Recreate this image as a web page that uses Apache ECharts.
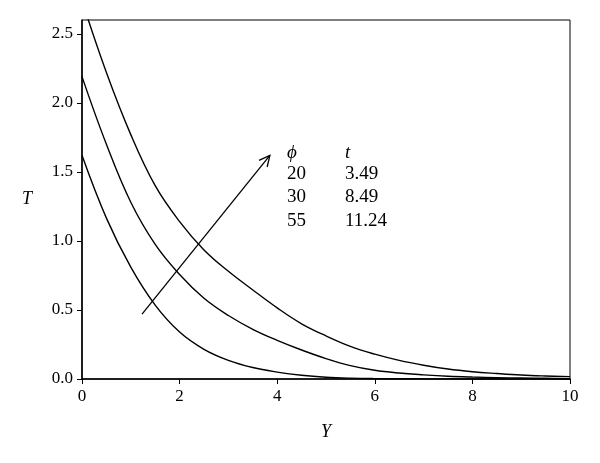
<!DOCTYPE html>
<html>
<head>
<meta charset="utf-8">
<script src="https://cdn.jsdelivr.net/npm/echarts@6/dist/echarts.min.js"></script>
<style>html,body{margin:0;padding:0;background:#fff;}#c{width:600px;height:463px;}</style>
</head>
<body>
<div id="c"></div>
<script>
// Data
var yPos = [0, 0.5, 1, 1.5, 2, 2.5, 3, 3.5, 4, 4.5, 5, 5.5, 6, 6.5, 7, 7.5, 8, 8.5, 9, 9.5, 10];
var T_phi20 = [1.62, 1.165, 0.81, 0.535, 0.34, 0.215, 0.135, 0.083, 0.05, 0.027, 0.013, 0.006, 0.003, 0.002, 0.001, 0.001, 0, 0, 0, 0, 0];
var T_phi30 = [2.19, 1.70, 1.28, 0.975, 0.757, 0.585, 0.46, 0.36, 0.28, 0.21, 0.148, 0.097, 0.063, 0.043, 0.03, 0.02, 0.014, 0.01, 0.007, 0.005, 0.003];
var T_phi55 = [2.74, 2.22, 1.77, 1.40, 1.14, 0.935, 0.78, 0.645, 0.515, 0.40, 0.312, 0.236, 0.18, 0.135, 0.10, 0.072, 0.053, 0.04, 0.029, 0.022, 0.017];
var xTicks = [0, 2, 4, 6, 8, 10];
var yTicks = [0.0, 0.5, 1.0, 1.5, 2.0, 2.5];
var legendRows = [["\u03d5", "t"], ["20", "3.49"], ["30", "8.49"], ["55", "11.24"]];
// arrow from (Y, T) to (Y, T)
var arrow = [[1.23, 0.47, 3.85, 1.62]];

function pairs(xs, ys) { return xs.map(function (x, i) { return [x, ys[i]]; }); }

var serif = 'Liberation Serif';
var chart = echarts.init(document.getElementById('c'), null, {renderer: 'canvas'});

function lineSeries(vals) {
  return {
    type: 'line', data: pairs(yPos, vals), showSymbol: false, symbol: 'none',
    smooth: 0.4, clip: true,
    lineStyle: {color: '#000', width: 1.4}, z: 3
  };
}

var graphics = [];
var colX = [287, 345];
var rowY = [153, 175, 198, 222];
legendRows.forEach(function (row, r) {
  row.forEach(function (txt, c) {
    graphics.push({
      type: 'text', left: colX[c], top: rowY[r] - 10,
      style: {
        text: txt, fill: '#000',
        font: (r === 0 ? 'italic ' : '') + '19px "' + serif + '"'
      }
    });
  });
});

chart.setOption({
  animation: false,
  backgroundColor: '#fff',
  grid: {left: 82, right: 30, top: 20, bottom: 84, show: true, borderColor: '#000', borderWidth: 1},
  xAxis: {
    type: 'value', min: 0, max: 10, interval: 2,
    name: 'Y', nameLocation: 'middle', nameGap: 44,
    nameTextStyle: {fontFamily: serif, fontStyle: 'italic', fontSize: 18, color: '#000'},
    axisLine: {show: true, onZero: false, lineStyle: {color: '#000', width: 1.5}},
    axisTick: {show: true, inside: false, length: 5, lineStyle: {color: '#000', width: 1}},
    axisLabel: {fontFamily: serif, fontSize: 17, color: '#000', margin: 9,
      formatter: function (v) { return xTicks.indexOf(v) >= 0 ? String(v) : ''; }},
    splitLine: {show: false}
  },
  yAxis: {
    type: 'value', min: 0, max: 2.6, interval: 0.5,
    name: 'T', nameLocation: 'middle', nameGap: 50, nameRotate: 0,
    nameTextStyle: {fontFamily: serif, fontStyle: 'italic', fontSize: 18, color: '#000'},
    axisLine: {show: true, onZero: false, lineStyle: {color: '#000', width: 1.5}},
    axisTick: {show: true, inside: false, length: 5, lineStyle: {color: '#000', width: 1}},
    axisLabel: {fontFamily: serif, fontSize: 17, color: '#000', margin: 9, showMaxLabel: false,
      formatter: function (v) {
        var hit = yTicks.some(function (t) { return Math.abs(t - v) < 1e-9; });
        return hit ? v.toFixed(1) : '';
      }},
    splitLine: {show: false}
  },
  series: [
    lineSeries(T_phi20),
    lineSeries(T_phi30),
    lineSeries(T_phi55),
    {
      type: 'custom', data: arrow, z: 4,
      renderItem: function (params, api) {
        var p1 = api.coord([api.value(0), api.value(1)]);
        var p2 = api.coord([api.value(2), api.value(3)]);
        var ang = Math.atan2(p2[1] - p1[1], p2[0] - p1[0]);
        var L = 12, a = 0.45;
        var h1 = [p2[0] - L * Math.cos(ang - a), p2[1] - L * Math.sin(ang - a)];
        var h2 = [p2[0] - L * Math.cos(ang + a), p2[1] - L * Math.sin(ang + a)];
        var st = {stroke: '#000', lineWidth: 1.3, fill: null};
        return {type: 'group', children: [
          {type: 'line', shape: {x1: p1[0], y1: p1[1], x2: p2[0], y2: p2[1]}, style: st},
          {type: 'polyline', shape: {points: [h1, p2, h2]}, style: st}
        ]};
      }
    }
  ],
  graphic: graphics
});
</script>
</body>
</html>
